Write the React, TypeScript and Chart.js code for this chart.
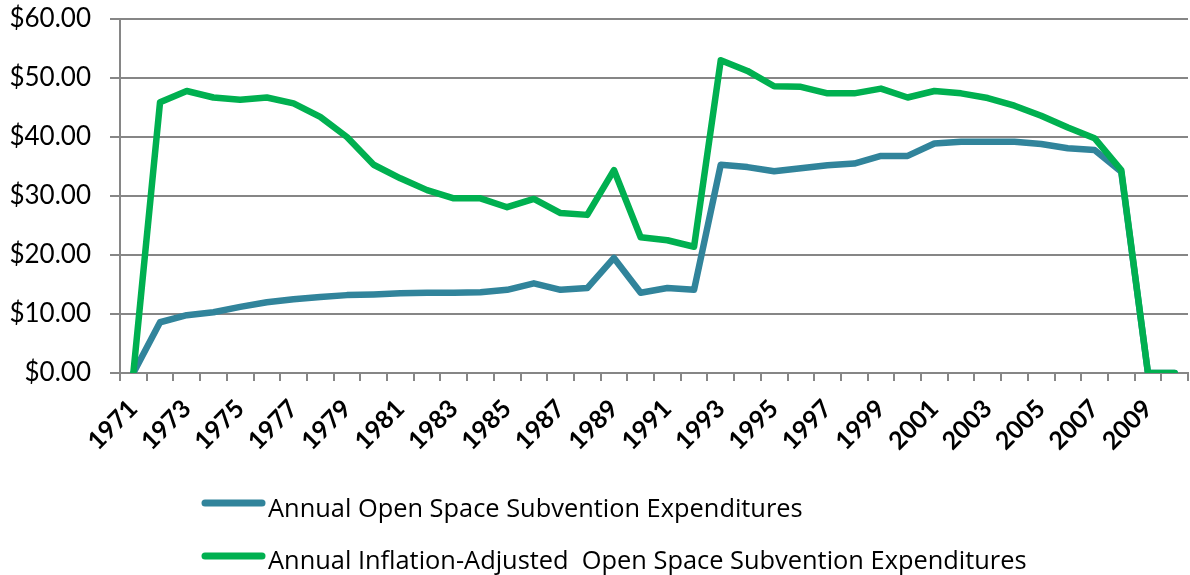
import React, { useEffect, useRef } from "react";
import { Chart, registerables } from "chart.js";

Chart.register(...registerables);

const years: string[] = [
  "1971", "1972", "1973", "1974", "1975", "1976", "1977", "1978", "1979", "1980",
  "1981", "1982", "1983", "1984", "1985", "1986", "1987", "1988", "1989", "1990",
  "1991", "1992", "1993", "1994", "1995", "1996", "1997", "1998", "1999", "2000",
  "2001", "2002", "2003", "2004", "2005", "2006", "2007", "2008", "2009", "2010",
];

const annualExpenditures: number[] = [
  0, 8.6, 9.8, 10.3, 11.2, 12.0, 12.5, 12.9, 13.2, 13.3,
  13.5, 13.6, 13.6, 13.7, 14.1, 15.2, 14.1, 14.4, 19.5, 13.6,
  14.4, 14.1, 35.3, 34.9, 34.2, 34.7, 35.2, 35.5, 36.8, 36.8,
  38.9, 39.2, 39.2, 39.2, 38.8, 38.1, 37.8, 34.1, 0, 0,
];

const inflationAdjusted: number[] = [
  0, 45.9, 47.8, 46.7, 46.3, 46.7, 45.7, 43.4, 40.0, 35.3,
  33.0, 31.0, 29.6, 29.6, 28.1, 29.5, 27.1, 26.8, 34.4, 23.0,
  22.5, 21.4, 53.0, 51.2, 48.6, 48.5, 47.4, 47.4, 48.2, 46.7,
  47.8, 47.4, 46.6, 45.3, 43.6, 41.6, 39.8, 34.4, 0, 0,
];

const seriesLabels: string[] = [
  "Annual Open Space Subvention Expenditures",
  "Annual Inflation-Adjusted  Open Space Subvention Expenditures",
];

const yTicks: number[] = [0, 10, 20, 30, 40, 50, 60];

const BLUE = "#31849B";
const GREEN = "#00B050";
const GRID = "#868686";

const legendPlugin = {
  id: "stackedLegend",
  afterDraw(chart: any) {
    const ctx = chart.ctx;
    const lineYs = [503, 556];
    const textYs = [517, 569];
    ctx.save();
    chart.data.datasets.forEach((ds: any, i: number) => {
      ctx.strokeStyle = ds.borderColor;
      ctx.lineWidth = 7;
      ctx.lineCap = "round";
      ctx.beginPath();
      ctx.moveTo(205, lineYs[i]);
      ctx.lineTo(262, lineYs[i]);
      ctx.stroke();
      ctx.fillStyle = "#000000";
      ctx.font = "25.4px 'Open Sans'";
      ctx.textAlign = "left";
      ctx.textBaseline = "alphabetic";
      ctx.fillText(ds.label, 268, textYs[i]);
    });
    ctx.restore();
  },
};

export default function App() {
  const ref = useRef<HTMLCanvasElement | null>(null);
  useEffect(() => {
    if (!ref.current) return;
    const chart = new Chart(ref.current, {
      type: "line",
      data: {
        labels: years,
        datasets: [
          {
            label: seriesLabels[0],
            data: annualExpenditures,
            borderColor: BLUE,
            backgroundColor: BLUE,
            borderWidth: 6.5,
            pointRadius: 0,
            tension: 0,
            order: 1,
            borderJoinStyle: "round",
            borderCapStyle: "round",
          },
          {
            label: seriesLabels[1],
            data: inflationAdjusted,
            borderColor: GREEN,
            backgroundColor: GREEN,
            borderWidth: 6.5,
            pointRadius: 0,
            tension: 0,
            order: 0,
            borderJoinStyle: "round",
            borderCapStyle: "round",
          },
        ],
      },
      options: {
        responsive: false,
        animation: false,
        layout: { padding: { left: 0, top: 19, right: 2, bottom: 102 } },
        plugins: {
          legend: { display: false },
          tooltip: { enabled: false },
        },
        scales: {
          x: {
            type: "category",
            offset: true,
            grid: {
              display: true,
              offset: true,
              drawOnChartArea: false,
              drawTicks: true,
              tickLength: 8,
              color: GRID,
              lineWidth: 2,
            },
            border: { display: true, color: GRID, width: 2 },
            ticks: {
              autoSkip: false,
              minRotation: 45,
              maxRotation: 45,
              padding: 13,
              color: "#000000",
              font: { family: "Lato", size: 25, weight: "bold" },
              callback: (_v: any, i: number) => (i % 2 === 0 ? years[i] : ""),
            },
            afterFit: (scale: any) => {
              scale.height = 100;
              scale.paddingLeft = 0;
              scale.paddingRight = 0;
            },
          },
          y: {
            min: yTicks[0],
            max: yTicks[yTicks.length - 1],
            afterBuildTicks: (scale: any) => {
              scale.ticks = yTicks.map((v) => ({ value: v }));
            },
            grid: {
              color: GRID,
              lineWidth: 2,
              tickLength: 10,
              drawTicks: true,
            },
            border: { display: true, color: GRID, width: 2 },
            ticks: {
              padding: 19,
              color: "#000000",
              font: { family: "Lato", size: 26 },
              callback: (v: any) => "$" + Number(v).toFixed(2),
            },
            afterFit: (scale: any) => {
              scale.width = 120;
              scale.paddingTop = 0;
              scale.paddingBottom = 0;
            },
          },
        },
      },
      plugins: [legendPlugin],
    });
    return () => chart.destroy();
  }, []);
  return (
    <div style={{ position: "absolute", left: 0, top: 0, width: 1190, height: 575, background: "#fff" }}>
      <canvas ref={ref} width={1190} height={575} style={{ display: "block" }} />
    </div>
  );
}
